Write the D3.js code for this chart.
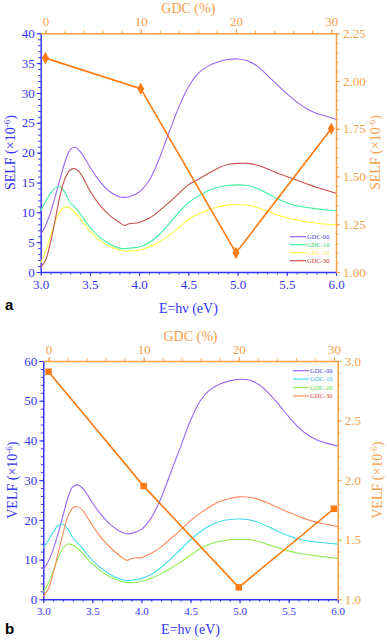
<!DOCTYPE html>
<html>
<head>
<meta charset="utf-8">
<script src="https://cdn.jsdelivr.net/npm/d3@7"></script>
<style>
  body { margin: 0; background: #fff; }
  svg text { font-family: "Liberation Serif", "DejaVu Serif", serif; }
</style>
</head>
<body>
<svg id="chart" width="387" height="641"></svg>
<script>
//Photon energy (eV) where the curves are sampled.
var energy = [3.0, 3.05, 3.1, 3.15, 3.2, 3.25, 3.3, 3.35, 3.4, 3.45, 3.5, 3.6, 3.7, 3.8, 3.85, 3.9,
    4.0, 4.1, 4.2, 4.3, 4.4, 4.5, 4.6, 4.7, 4.8, 4.9, 5.0, 5.1, 5.2, 5.3, 5.4, 5.5, 5.6, 5.7, 5.8, 5.9, 6.0];

var seriesNames = ["GDC-00", "GDC-10", "GDC-20", "GDC-30"];

//Panel a: SELF (x10^-6)
var self00 = [6.3, 7.8, 10.0, 12.8, 15.8, 18.6, 20.5, 20.9, 20.2, 19.0, 17.6, 15.2, 13.5, 12.6, 12.5, 12.6,
    13.4, 15.3, 18.8, 23.2, 27.5, 31.0, 33.3, 34.5, 35.2, 35.6, 35.7, 35.4, 34.5, 33.0, 31.4, 29.9, 28.5, 27.4, 26.6, 26.1, 25.6];
var self10 = [10.3, 11.8, 13.2, 14.1, 14.3, 13.2, 11.6, 10.8, 9.8, 8.6, 7.5, 5.8, 4.7, 4.0, 3.9, 4.0,
    4.2, 4.9, 6.2, 8.0, 9.9, 11.6, 12.7, 13.6, 14.2, 14.5, 14.6, 14.5, 14.0, 13.2, 12.3, 11.6, 11.1, 10.8, 10.6, 10.4, 10.3];
var self20 = [1.5, 3.5, 6.0, 8.5, 10.2, 10.9, 10.7, 9.9, 8.9, 7.9, 6.9, 5.3, 4.3, 3.7, 3.5, 3.5,
    3.7, 4.2, 5.0, 6.1, 7.4, 8.8, 9.7, 10.4, 10.9, 11.2, 11.3, 11.2, 10.8, 10.2, 9.6, 9.1, 8.7, 8.4, 8.2, 8.0, 7.9];
var self30 = [0.8, 2.0, 5.0, 9.0, 13.0, 15.8, 17.1, 17.3, 16.6, 15.2, 13.6, 11.2, 9.5, 8.3, 7.8, 8.1,
    8.3, 9.0, 10.2, 11.6, 13.1, 14.6, 15.5, 16.5, 17.4, 18.0, 18.2, 18.2, 17.9, 17.3, 16.6, 16.0, 15.4, 14.8, 14.2, 13.7, 13.2];

//Panel b: VELF (x10^-6)
var velf00 = [7.5, 9.5, 12.5, 16.5, 21.0, 25.5, 28.3, 28.8, 28.0, 26.3, 24.3, 21.0, 18.5, 16.9, 16.5, 16.6,
    17.6, 20.5, 25.5, 32.0, 38.5, 45.0, 50.0, 52.8, 54.2, 55.0, 55.4, 55.2, 54.0, 51.8, 49.0, 46.0, 43.3, 41.3, 40.0, 39.2, 38.6];
var velf10 = [13.0, 14.8, 16.9, 18.5, 18.9, 17.8, 15.5, 14.2, 12.8, 11.2, 9.8, 7.6, 6.0, 5.0, 4.7, 4.8,
    5.2, 6.3, 8.0, 10.2, 12.6, 15.0, 17.0, 18.6, 19.6, 20.1, 20.2, 20.0, 19.3, 18.2, 17.0, 16.0, 15.2, 14.7, 14.4, 14.1, 13.9];
var velf20 = [1.8, 4.0, 7.0, 10.3, 12.8, 13.9, 13.7, 12.8, 11.6, 10.2, 8.9, 6.9, 5.4, 4.5, 4.2, 4.2,
    4.5, 5.3, 6.4, 7.8, 9.4, 11.1, 12.8, 13.9, 14.6, 15.0, 15.1, 15.0, 14.5, 13.7, 12.9, 12.2, 11.6, 11.2, 10.9, 10.6, 10.3];
var velf30 = [0.8, 2.5, 6.5, 11.5, 16.5, 20.8, 23.0, 23.3, 22.4, 20.6, 18.6, 15.2, 12.6, 10.6, 9.8, 10.3,
    10.5, 11.6, 13.2, 15.3, 17.5, 19.8, 21.7, 23.3, 24.6, 25.4, 25.8, 25.7, 25.1, 24.1, 23.0, 21.9, 20.9, 20.0, 19.3, 18.8, 18.3];

//GDC content (%) and the value at the energy-loss peak (right axis).
var gdc = [0, 10, 20, 30];
var selfPeak = [2.12, 1.96, 1.10, 1.75];
var velfPeak = [2.91, 1.95, 1.10, 1.76];

var svg = d3.select("#chart");
var blue = "#3434f4", orange = "#ff7a10", orangeAxis = "#f7a04a";

function drawPanel(p) {
    var x = d3.scaleLinear().domain([3.0, 6.0]).range([p.left, p.right]);
    var y = d3.scaleLinear().domain(p.yDomain).range([p.bottom, p.top]);
    var y2 = d3.scaleLinear().domain(p.y2Domain).range([p.bottom, p.top]);
    var xTop = d3.scaleLinear().domain(p.gDomain).range([p.left, p.right]);
    var g = svg.append("g");

    //Minor ticks first, then the labelled axes over them.
    function minor(axisFn, scale, values, transform, color) {
        g.append("g").attr("transform", transform)
            .call(axisFn(scale).tickValues(values).tickSize(2.5).tickFormat(""))
            .call(function (s) {
                s.select(".domain").remove();
                s.selectAll("line").attr("stroke", color);
            });
    }
    minor(d3.axisBottom, x, d3.range(30, 61).map(function (d) { return d / 10; }), "translate(0," + p.bottom + ")", blue);
    minor(d3.axisLeft, y, d3.range(p.yDomain[0], p.yDomain[1] + 0.01, p.yMinor), "translate(" + p.left + ",0)", blue);
    minor(d3.axisRight, y2, d3.range(0, 200).map(function (i) { return p.y2Domain[0] + i * p.y2Minor; })
        .filter(function (d) { return d <= p.y2Domain[1] + 1e-6; }), "translate(" + p.right + ",0)", orangeAxis);
    minor(d3.axisTop, xTop, d3.range(0, 31, 2), "translate(0," + p.top + ")", orangeAxis);

    function styleAxis(s, color, size) {
        s.select(".domain").attr("stroke", color).attr("stroke-width", 1.5);
        s.selectAll("line").attr("stroke", color);
        s.selectAll("text").attr("fill", color).style("font-size", size + "px")
            .style("font-family", "'Liberation Serif', serif");
    }

    g.append("g").attr("transform", "translate(0," + p.bottom + ")")
        .call(d3.axisBottom(x).tickValues([3.0, 3.5, 4.0, 4.5, 5.0, 5.5, 6.0]).tickFormat(d3.format(".1f")).tickSize(4).tickSizeOuter(0).tickPadding(4))
        .call(styleAxis, blue, p.xFont);
    g.append("g").attr("transform", "translate(" + p.left + ",0)")
        .call(d3.axisLeft(y).ticks(p.yTicks).tickSize(4).tickSizeOuter(0).tickPadding(2))
        .call(styleAxis, blue, p.yFont);
    g.append("g").attr("transform", "translate(" + p.right + ",0)")
        .call(d3.axisRight(y2).tickValues(p.y2Ticks).tickFormat(d3.format(p.y2Format)).tickSize(4).tickSizeOuter(0).tickPadding(3))
        .call(styleAxis, orangeAxis, p.yFont);
    g.append("g").attr("transform", "translate(0," + p.top + ")")
        .call(d3.axisTop(xTop).tickValues([0, 10, 20, 30]).tickSize(4).tickSizeOuter(0).tickPadding(3))
        .call(styleAxis, orangeAxis, p.yFont);

    //Energy loss curves.
    var line = d3.line()
        .x(function (d, i) { return x(energy[i]); })
        .y(function (d) { return y(d); })
        .curve(d3.curveCatmullRom.alpha(0.5));
    p.series.forEach(function (vals, i) {
        g.append("path").datum(vals)
            .attr("d", line)
            .attr("fill", "none")
            .attr("stroke", p.colors[i])
            .attr("stroke-width", 1.1);
    });

    //Peak value against GDC content.
    var peakLine = d3.line()
        .x(function (d, i) { return xTop(gdc[i]); })
        .y(function (d) { return y2(d); });
    g.append("path").datum(p.peak)
        .attr("d", peakLine)
        .attr("fill", "none")
        .attr("stroke", orange)
        .attr("stroke-width", 1.6);
    g.selectAll(".mark").data(p.peak).enter().append("path")
        .attr("transform", function (d, i) { return "translate(" + xTop(gdc[i]) + "," + y2(d) + ")"; })
        .attr("d", d3.symbol().type(p.symbol).size(p.symbolSize))
        .attr("fill", orange);

    //Legend.
    seriesNames.forEach(function (name, i) {
        var ly = p.legendY + i * p.legendStep;
        g.append("line")
            .attr("x1", p.legendX).attr("x2", p.legendX + 16)
            .attr("y1", ly).attr("y2", ly)
            .attr("stroke", p.colors[i]).attr("stroke-width", 1.2);
        g.append("text")
            .attr("x", p.legendX + 17).attr("y", ly + 2)
            .attr("fill", p.textColors[i])
            .style("font-size", "6.5px")
            .text(name);
    });

    //Axis titles.
    function unitTitle(tx, ty, label, color) {
        var t = g.append("text")
            .attr("transform", "translate(" + tx + "," + ty + ") rotate(-90)")
            .attr("text-anchor", "middle")
            .attr("fill", color)
            .style("font-size", "14px");
        t.append("tspan").text(label + " (\u00d710");
        t.append("tspan").attr("dy", -5).style("font-size", "9px").text("-6");
        t.append("tspan").attr("dy", 5).text(")");
    }
    unitTitle(p.left - 26, (p.top + p.bottom) / 2, p.name, blue);
    unitTitle(p.right + 44, (p.top + p.bottom) / 2, p.name, orangeAxis);

    g.append("text")
        .attr("x", (p.left + p.right) / 2).attr("y", p.top - 20)
        .attr("text-anchor", "middle").attr("fill", orangeAxis)
        .style("font-size", "14px").text("GDC (%)");
    g.append("text")
        .attr("x", (p.left + p.right) / 2).attr("y", p.bottom + p.xTitleGap)
        .attr("text-anchor", "middle").attr("fill", blue)
        .style("font-size", "14px").text("E=h\u03bd (eV)");
    g.append("text")
        .attr("x", 5).attr("y", p.bottom + p.labelGap)
        .attr("fill", "#000")
        .style("font-family", "'Liberation Sans', Arial, sans-serif")
        .style("font-weight", "bold")
        .style("font-size", "15px")
        .text(p.label);
}

drawPanel({
    name: "SELF", label: "a",
    left: 40.7, right: 336, top: 33.3, bottom: 272,
    yDomain: [0, 40], yTicks: 8, yMinor: 1,
    y2Domain: [1.0, 2.25], y2Ticks: [1.0, 1.25, 1.5, 1.75, 2.0, 2.25], y2Format: ".2f", y2Minor: 0.05,
    gDomain: [-0.5, 30.5],
    xFont: 13, yFont: 13, xTitleGap: 41, labelGap: 38,
    series: [self00, self10, self20, self30],
    colors: ["#9a66f2", "#3ff0a0", "#ffff40", "#c84f4f"],
    textColors: ["#3a3ad0", "#25c86a", "#f5e860", "#c83434"],
    peak: selfPeak, symbol: d3.symbolDiamond, symbolSize: 42,
    legendX: 290, legendY: 236.7, legendStep: 8
});

drawPanel({
    name: "VELF", label: "b",
    left: 43.3, right: 337.7, top: 361, bottom: 599.3,
    yDomain: [0, 60], yTicks: 6, yMinor: 2,
    y2Domain: [1.0, 3.0], y2Ticks: [1.0, 1.5, 2.0, 2.5, 3.0], y2Format: ".1f", y2Minor: 0.1,
    gDomain: [-0.55, 30.4],
    xFont: 11, yFont: 13, xTitleGap: 35, labelGap: 35,
    series: [velf00, velf10, velf20, velf30],
    colors: ["#9a66f2", "#48dcec", "#8cee50", "#ff8a5a"],
    textColors: ["#3a3ad0", "#38b8e0", "#4ee830", "#e84040"],
    peak: velfPeak, symbol: d3.symbolSquare, symbolSize: 42,
    legendX: 293, legendY: 370.7, legendStep: 8.4
});
</script>
</body>
</html>
